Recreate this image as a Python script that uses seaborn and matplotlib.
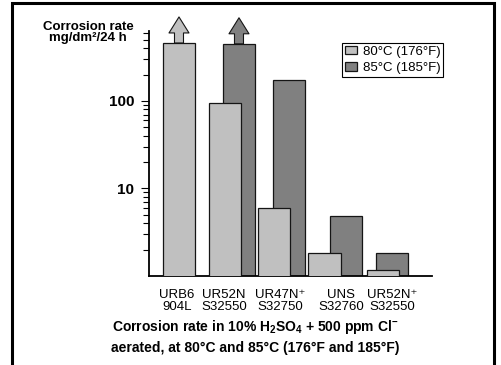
import numpy as np
import pandas as pd
import matplotlib
matplotlib.use("Agg")
import matplotlib.pyplot as plt
from matplotlib.ticker import LogLocator, NullFormatter, FixedLocator
from matplotlib.patches import Rectangle
import seaborn as sns

# ---- data ----
alloys = ["URB6\n904L", "UR52N\nS32550", "UR47N\u207a\nS32750", "UNS\nS32760", "UR52N\u207a\nS32550"]
rate_80 = [460, 95, 6.0, 1.85, 1.17]
rate_85 = [np.nan, 450, 174, 4.9, 1.85]
off_scale_80 = [True, False, False, False, False]
off_scale_85 = [False, True, False, False, False]
series = ["80°C (176°F)", "85°C (185°F)"]
y_ticks = [10, 100]
y_tick_labels = ["10", "100"]

# ---- layout (positions along x, as drawn in the original) ----
pos_80 = np.array([0.0, 0.900, 1.872, 2.867, 4.014])
pos_85 = np.array([np.nan, 1.182, 2.162, 3.297, 4.201])
label_pos = np.array([-0.039, 0.887, 1.990, 3.192, 4.197])
bar_w = 0.631

# ---- style ----
sns.set_theme(style="ticks", rc={
    "axes.edgecolor": "black", "text.color": "black",
    "xtick.color": "black", "ytick.color": "black", "axes.labelcolor": "black",
})
plt.rcParams["font.family"] = ["Liberation Sans", "DejaVu Sans"]
plt.rcParams["mathtext.fontset"] = "custom"
plt.rcParams["mathtext.rm"] = "Liberation Sans:bold"
plt.rcParams["mathtext.bf"] = "Liberation Sans:bold"
plt.rcParams["mathtext.it"] = "Liberation Sans:bold"

W, H = 501, 365
fig = plt.figure(figsize=(W / 100, H / 100), dpi=100)
ax = fig.add_axes([149 / W, 1 - 276 / H, (432 - 149) / W, (276 - 31) / H])
ax.set_yscale("log")

c80, c85 = "#c0c0c0", "#808080"
edge = "#151515"

df85 = pd.DataFrame({"x": pos_85, "rate": rate_85}).dropna()
df80 = pd.DataFrame({"x": pos_80, "rate": rate_80})


def rel_width(xs):
    return bar_w / np.diff(np.sort(np.asarray(xs))).min()


sns.barplot(data=df85, x="x", y="rate", native_scale=True, width=rel_width(df85["x"]),
            color=c85, saturation=1, edgecolor=edge, linewidth=0.9,
            errorbar=None, label=series[1], ax=ax, zorder=2)
sns.barplot(data=df80, x="x", y="rate", native_scale=True, width=rel_width(df80["x"]),
            color=c80, saturation=1, edgecolor=edge, linewidth=0.9,
            errorbar=None, label=series[0], ax=ax, zorder=3)

ax.set_ylim(1, 630)
ax.set_xlim(-0.591, 4.985)


def up_arrow(x, y, color):
    ax.annotate("", xy=(x, y * 10 ** (26 / 87.5)), xytext=(x, y),
                arrowprops=dict(arrowstyle="simple,head_length=1.6,head_width=2.0,tail_width=0.9",
                                mutation_scale=7.2, fc=color, ec=edge, lw=0.8,
                                shrinkA=0, shrinkB=0),
                annotation_clip=False, zorder=4)


for i in range(len(alloys)):
    if off_scale_80[i]:
        up_arrow(pos_80[i], rate_80[i], c80)
    if off_scale_85[i]:
        up_arrow(pos_85[i], rate_85[i], c85)

# axes styling
ax.spines["top"].set_visible(False)
ax.spines["right"].set_visible(False)
ax.spines["left"].set_linewidth(1.3)
ax.spines["bottom"].set_linewidth(1.3)

ax.yaxis.set_major_locator(FixedLocator(y_ticks))
ax.set_yticklabels(y_tick_labels, fontsize=11, fontweight="bold")
ax.yaxis.set_minor_locator(LogLocator(base=10, subs=np.arange(2, 10)))
ax.yaxis.set_minor_formatter(NullFormatter())
ax.tick_params(axis="y", which="major", direction="out", length=5.5, width=0.8, pad=5)
ax.tick_params(axis="y", which="minor", direction="out", length=4, width=0.8)

ax.set_xticks(label_pos)
ax.set_xticklabels(alloys, fontsize=9.5)
for t in ax.get_xticklabels():
    t.set_linespacing(1.1)
ax.tick_params(axis="x", length=0, pad=9)
ax.set_xlabel("")
ax.set_ylabel("")

# legend
handles, labels = ax.get_legend_handles_labels()
order = [labels.index(s) for s in series]
leg = ax.legend([handles[k] for k in order], [labels[k] for k in order],
                loc="upper left", bbox_to_anchor=(342 / W, 1 - 43 / H),
                bbox_transform=fig.transFigure, frameon=True, fancybox=False,
                edgecolor="black", framealpha=1, fontsize=9.5,
                handlelength=0.9, handleheight=0.6, handletextpad=0.45,
                borderpad=0.22, labelspacing=0.33, borderaxespad=0)
leg.get_frame().set_linewidth(0.8)

# texts
fig.text(88 / W, 1 - 30 / H, "Corrosion rate", ha="center", va="baseline",
         fontsize=9.5, fontweight="bold")
fig.text(88 / W, 1 - 41 / H, "mg/dm²/24 h", ha="center", va="baseline",
         fontsize=9.5, fontweight="bold")
fig.text(255 / W, 1 - 331 / H, r"Corrosion rate in 10% H$_2$SO$_4$ + 500 ppm Cl$^{-}$",
         ha="center", va="baseline", fontsize=10, fontweight="bold")
fig.text(255 / W, 1 - 352 / H, "aerated, at 80°C and 85°C (176°F and 185°F)",
         ha="center", va="baseline", fontsize=10, fontweight="bold")

# outer frame
fig.add_artist(Rectangle((12 / W, -0.1), (494 - 12) / W, 1.1 - 3 / H,
                         transform=fig.transFigure, fill=False, lw=2.2,
                         ec="black", clip_on=False))

fig.savefig("out.png", dpi=100)
